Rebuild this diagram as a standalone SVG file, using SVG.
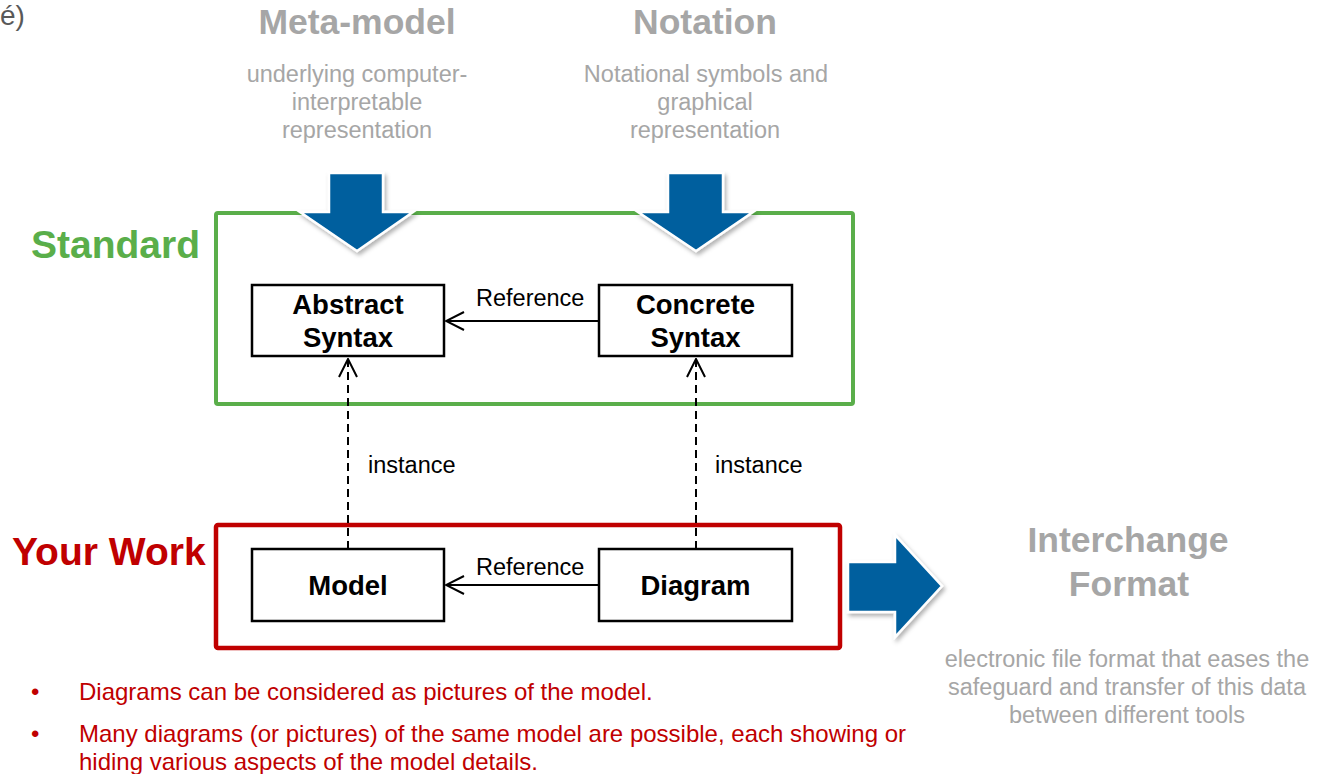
<svg xmlns="http://www.w3.org/2000/svg" width="1318" height="774" viewBox="0 0 1318 774">
<style>
text{font-family:"Liberation Sans",Arial,sans-serif}
.title{font-size:35.5px;font-weight:bold;fill:#a6a6a6;text-anchor:middle}
.sub{font-size:23.5px;fill:#a6a6a6;text-anchor:middle}
.node rect{fill:#fff;stroke:#000;stroke-width:2.5}
.node text{font-size:27.5px;font-weight:bold;fill:#000;text-anchor:middle}
.lbl{font-size:23.5px;fill:#000}
.big{fill:#005f9e;stroke:#fff;stroke-width:2.5;stroke-linejoin:miter}
.bul{font-size:24px;fill:#c00000}
</style>
<defs>
<filter id="sh" x="-20%" y="-20%" width="150%" height="150%">
<feDropShadow dx="2" dy="3" stdDeviation="2" flood-color="#000" flood-opacity="0.3"/>
</filter>
<marker id="open" viewBox="0 0 20 20" refX="19" refY="10" markerWidth="20" markerHeight="20" markerUnits="userSpaceOnUse" orient="auto">
<path d="M1,1 L19,10 L1,19" fill="none" stroke="#000" stroke-width="2"/>
</marker>
</defs>

<text x="0" y="25" style="font-size:28px;fill:#595959">é)</text>

<g id="metamodel">
<text class="title" x="357" y="34">Meta-model</text>
<text class="sub" x="357" y="82">underlying computer-</text>
<text class="sub" x="357" y="110">interpretable</text>
<text class="sub" x="357" y="138">representation</text>
</g>
<g id="notation">
<text class="title" x="705" y="34">Notation</text>
<text class="sub" x="706" y="82">Notational symbols and</text>
<text class="sub" x="705" y="110">graphical</text>
<text class="sub" x="705" y="138">representation</text>
</g>

<g id="standard">
<rect x="216" y="213" width="637" height="191" rx="2" fill="none" stroke="#5aae4a" stroke-width="4"/>
<text x="31" y="258" style="font-size:39px;font-weight:bold;fill:#5aae4a">Standard</text>
</g>
<g id="yourwork">
<rect x="216" y="525" width="624" height="123" rx="2" fill="none" stroke="#c00000" stroke-width="4.5"/>
<text x="12" y="565" style="font-size:39px;font-weight:bold;fill:#c00000">Your Work</text>
</g>

<g id="arrow-meta" filter="url(#sh)">
<polygon class="big" points="329,173 383,173 383,212 413,212 357,251 300,212 329,212"/>
</g>
<g id="arrow-notation" filter="url(#sh)">
<polygon class="big" points="668,173 723,173 723,212 753,212 696,251 638,212 668,212"/>
</g>
<g id="arrow-interchange" filter="url(#sh)">
<polygon class="big" points="848,562 895,562 895,535 942,586 895,637 895,612 848,612"/>
</g>

<g id="abstract" class="node">
<rect x="252" y="285" width="192" height="71"/>
<text x="348" y="314">Abstract</text>
<text x="348" y="347">Syntax</text>
</g>
<g id="concrete" class="node">
<rect x="599" y="285" width="193" height="71"/>
<text x="695.5" y="314">Concrete</text>
<text x="695.5" y="347">Syntax</text>
</g>
<g id="model" class="node">
<rect x="252" y="549" width="192" height="72"/>
<text x="348" y="595">Model</text>
</g>
<g id="diagram" class="node">
<rect x="599" y="549" width="193" height="72"/>
<text x="695.5" y="595">Diagram</text>
</g>

<g id="connectors" fill="none" stroke="#000" stroke-width="2">
<line x1="599" y1="321" x2="446" y2="321" marker-end="url(#open)"/>
<line x1="599" y1="585" x2="446" y2="585" marker-end="url(#open)"/>
<line x1="348" y1="549" x2="348" y2="359" stroke-dasharray="8,5" marker-end="url(#open)"/>
<line x1="696" y1="549" x2="696" y2="359" stroke-dasharray="8,5" marker-end="url(#open)"/>
</g>
<g id="connector-labels">
<text class="lbl" x="476" y="306">Reference</text>
<text class="lbl" x="476" y="575">Reference</text>
<text class="lbl" x="368" y="473">instance</text>
<text class="lbl" x="715" y="473">instance</text>
</g>

<g id="interchange">
<text class="title" x="1128" y="552">Interchange</text>
<text class="title" x="1129" y="596">Format</text>
<text class="sub" x="1127" y="667">electronic file format that eases the</text>
<text class="sub" x="1127" y="695">safeguard and transfer of this data</text>
<text class="sub" x="1127" y="723">between different tools</text>
</g>

<g id="notes">
<text class="bul" x="31" y="700">•</text>
<text class="bul" x="79" y="700">Diagrams can be considered as pictures of the model.</text>
<text class="bul" x="31" y="742">•</text>
<text class="bul" x="79" y="742">Many diagrams (or pictures) of the same model are possible, each showing or</text>
<text class="bul" x="79" y="770">hiding various aspects of the model details.</text>
</g>
</svg>
